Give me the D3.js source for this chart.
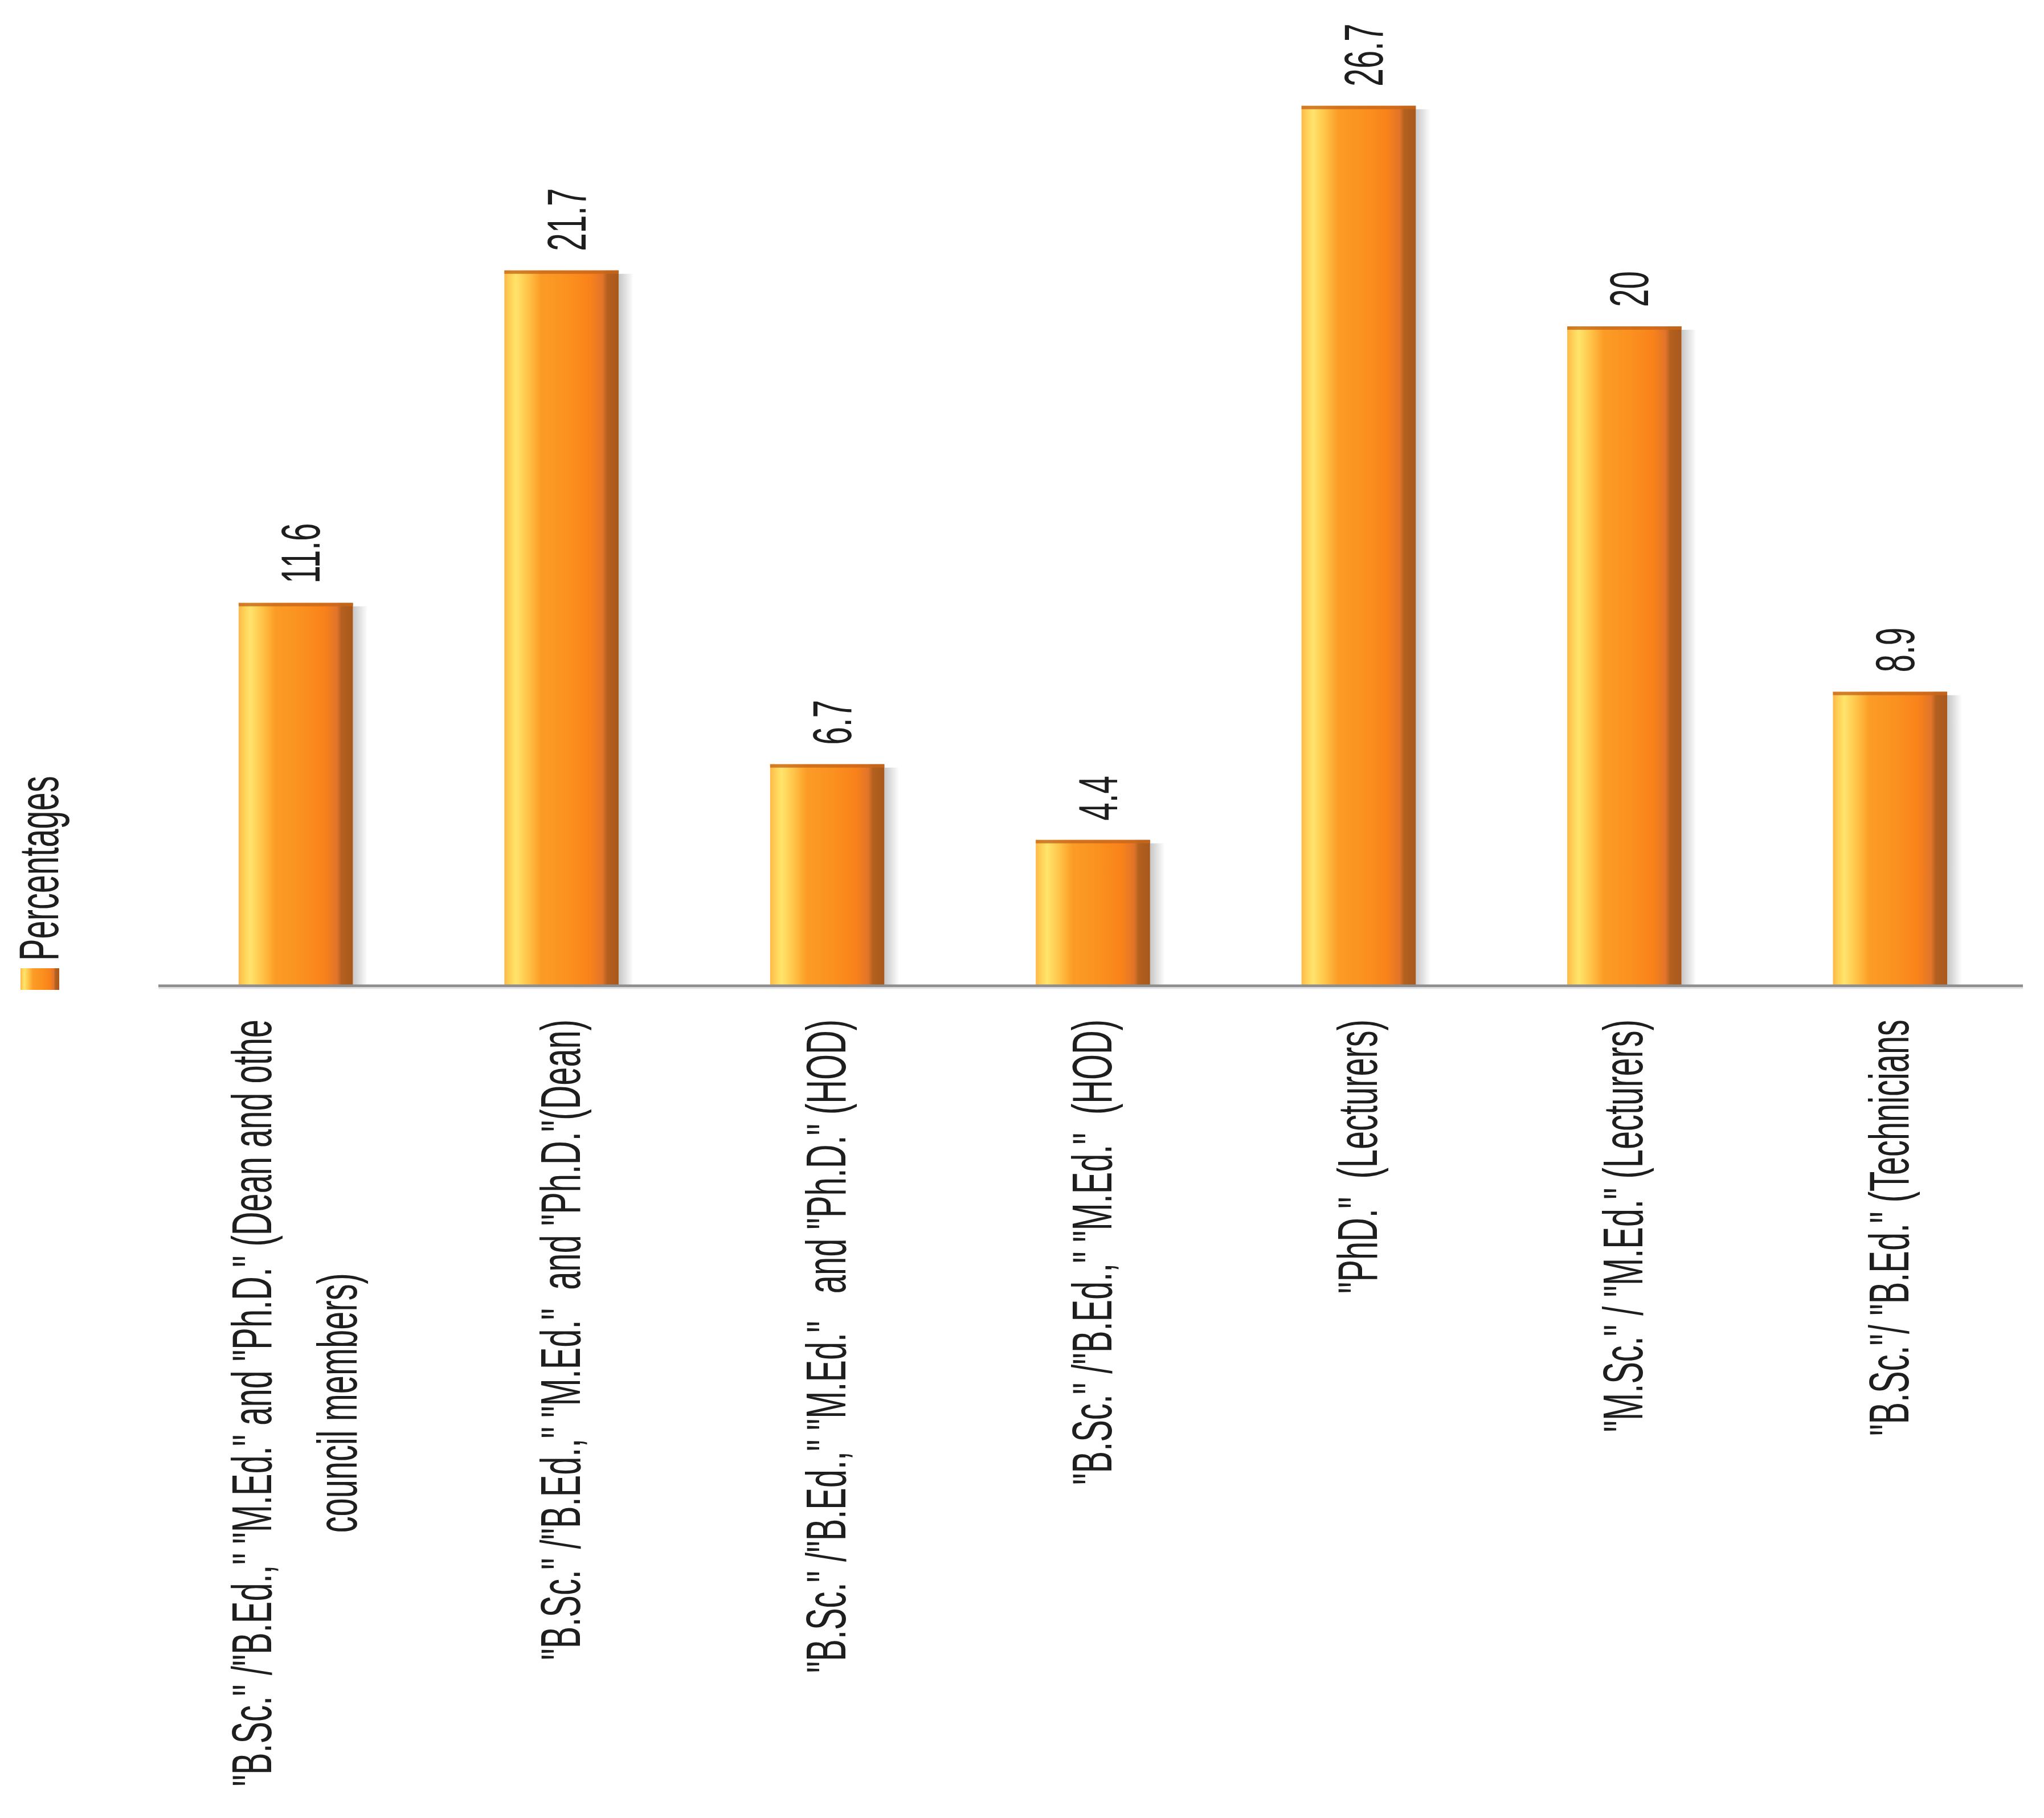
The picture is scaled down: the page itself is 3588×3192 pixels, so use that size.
<!DOCTYPE html>
<html>
<head>
<meta charset="utf-8">
<script src="https://cdn.jsdelivr.net/npm/d3@7"></script>
<style>
  body { margin: 0; background: #fff; }
  text { font-family: "Liberation Sans", Arial, sans-serif; fill: #1e1e1e; }
</style>
</head>
<body>
<div id="chart"></div>
<script>
var svgWidth = 3588;
var svgHeight = 3192;

// data
var categories = ["c1", "c2", "c3", "c4", "c5", "c6", "c7"];
var labelLines = [
  ['"B.Sc." /"B.Ed.," "M.Ed." and "Ph.D." (Dean and othe', 'council members)'],
  ['"B.Sc." /"B.Ed.," "M.Ed."  and "Ph.D."(Dean)'],
  ['"B.Sc." /"B.Ed.," "M.Ed."   and "Ph.D." (HOD)'],
  ['"B.Sc." /"B.Ed.," "M.Ed."  (HOD)'],
  ['"PhD."  (Lecturers)'],
  ['"M.Sc." / "M.Ed." (Lecturers)'],
  ['"B.Sc."/ "B.Ed." (Technicians']
];
var percentages = [11.6, 21.7, 6.7, 4.4, 26.7, 20, 8.9];
var valueLabels = ["11.6", "21.7", "6.7", "4.4", "26.7", "20", "8.9"];
var seriesName = "Percentages";

var baseY = 1729;
var squeeze = 0.59;   // glyphs are narrow along the reading direction

var svg = d3.select("#chart")
  .append("svg")
  .attr("width", svgWidth)
  .attr("height", svgHeight);

var defs = svg.append("defs");

var barGrad = defs.append("linearGradient")
  .attr("id", "barGrad")
  .attr("x1", "0").attr("x2", "1").attr("y1", "0").attr("y2", "0");
[[0, "#ffb847"], [0.05, "#ffd258"], [0.1, "#ffe46c"], [0.2, "#ffc64a"],
 [0.32, "#fb9c26"], [0.55, "#fb911f"], [0.75, "#f9821a"], [0.86, "#e1742a"],
 [0.9, "#b3601f"], [1, "#a9581d"]].forEach(function(s) {
  barGrad.append("stop").attr("offset", s[0]).attr("stop-color", s[1]);
});

var shadowGrad = defs.append("linearGradient")
  .attr("id", "shadowGrad")
  .attr("x1", "0").attr("x2", "1").attr("y1", "0").attr("y2", "0");
shadowGrad.append("stop").attr("offset", 0).attr("stop-color", "#000").attr("stop-opacity", 0.22);
shadowGrad.append("stop").attr("offset", 1).attr("stop-color", "#000").attr("stop-opacity", 0);

// scales
var x = d3.scaleBand()
  .domain(categories)
  .range([286, 3551])
  .paddingInner(0.57)
  .paddingOuter(0.285);

var y = d3.scaleLinear()
  .domain([0, 30])
  .range([baseY, -5]);

var bars = svg.append("g").selectAll("g")
  .data(percentages)
  .enter()
  .append("g");

// shadow to the right
bars.append("rect")
  .attr("x", (d, i) => x(categories[i]) + x.bandwidth())
  .attr("y", d => y(d) + 6)
  .attr("width", 26)
  .attr("height", d => baseY - y(d) - 6)
  .attr("fill", "url(#shadowGrad)");

bars.append("rect")
  .attr("x", (d, i) => x(categories[i]))
  .attr("y", d => y(d))
  .attr("width", x.bandwidth())
  .attr("height", d => baseY - y(d))
  .attr("fill", "url(#barGrad)");

// darker top edge
bars.append("rect")
  .attr("x", (d, i) => x(categories[i]))
  .attr("y", d => y(d))
  .attr("width", x.bandwidth())
  .attr("height", 6)
  .attr("fill", "#c8661a")
  .attr("opacity", 0.8);

// axis line
svg.append("line")
  .attr("x1", x.range()[0] - 8)
  .attr("x2", x.range()[1])
  .attr("y1", baseY + 2)
  .attr("y2", baseY + 2)
  .attr("stroke", "#8e8e8e")
  .attr("stroke-width", 5);
svg.append("line")
  .attr("x1", x.range()[0] - 8)
  .attr("x2", x.range()[1])
  .attr("y1", baseY + 6)
  .attr("y2", baseY + 6)
  .attr("stroke", "#e2e4e8")
  .attr("stroke-width", 3);

// value labels
svg.append("g").selectAll("g")
  .data(percentages)
  .enter()
  .append("g")
  .attr("transform", (d, i) =>
    `translate(${x(categories[i]) + x.bandwidth() / 2 + 42}, ${y(d) - 34}) rotate(-90) scale(${squeeze},1)`)
  .append("text")
  .attr("font-size", 96)
  .attr("text-anchor", "start")
  .text((d, i) => valueLabels[i]);

// category labels
var lineGap = 150;
var labelTop = 1790;
labelLines.forEach(function(lines, i) {
  var cx = x(categories[i]) + x.bandwidth() / 2;
  var grp = svg.append("g");
  var texts = lines.map(function(line, j) {
    var bx = cx + (j - (lines.length - 1) / 2) * lineGap + 32;
    return grp.append("g")
      .attr("transform", `translate(${bx}, ${labelTop}) rotate(-90) scale(${squeeze},1)`)
      .append("text")
      .attr("font-size", 98)
      .attr("xml:space", "preserve")
      .style("white-space", "pre")
      .attr("text-anchor", "middle")
      .text(line);
  });
  var maxLen = d3.max(texts, t => t.node().getComputedTextLength());
  texts.forEach(t => t.attr("x", -maxLen / 2));
});

// legend
svg.append("rect")
  .attr("x", 36)
  .attr("y", 1700)
  .attr("width", 68)
  .attr("height", 38)
  .attr("fill", "url(#barGrad)");

svg.append("g")
  .attr("transform", `translate(102, 1687) rotate(-90) scale(${squeeze},1)`)
  .append("text")
  .attr("font-size", 98)
  .attr("text-anchor", "start")
  .text(seriesName);
</script>
</body>
</html>
